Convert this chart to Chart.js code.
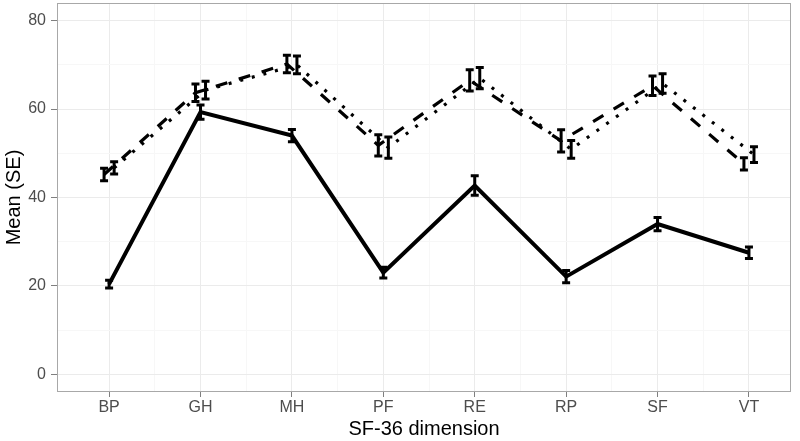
<!DOCTYPE html>
<html>
<head>
<meta charset="utf-8">
<script src="https://cdn.jsdelivr.net/npm/chart.js@4"></script>
<style>
  html, body { margin: 0; padding: 0; background: #fff; }
  #wrap { width: 800px; height: 441px; }
</style>
</head>
<body>
<div id="wrap"><canvas id="chart"></canvas></div>
<script>
// SF-36 dimensions on the x axis
const categories = ['BP', 'GH', 'MH', 'PF', 'RE', 'RP', 'SF', 'VT'];

// group means
const meanSolid  = [20.4, 59.3, 54.0, 23.0, 42.7, 22.1, 34.0, 27.5];
const meanDashed = [45.2, 63.7, 70.2, 51.8, 66.5, 52.8, 65.3, 47.6];
const meanDotted = [46.7, 64.3, 70.0, 51.3, 67.0, 50.9, 65.8, 49.7];

// standard errors
const seSolid  = [0.9, 1.6, 1.4, 1.2, 2.2, 1.4, 1.5, 1.3];
const seDashed = [1.4, 2.0, 2.0, 2.4, 2.4, 2.5, 2.2, 1.4];
const seDotted = [1.4, 2.0, 2.0, 2.4, 2.4, 2.0, 2.2, 1.8];

const yTicks = [0, 10, 20, 30, 40, 50, 60, 70, 80];
const dodge = 0.055;
const fontFam = 'Liberation Sans, Arial, sans-serif';

function pts(means, off) {
  return means.map((v, i) => ({ x: i + off, y: v }));
}

const errorBars = {
  id: 'errorBars',
  afterDatasetsDraw(chart) {
    const ctx = chart.ctx;
    const xs = chart.scales.x, ys = chart.scales.y;
    ctx.save();
    ctx.strokeStyle = '#000';
    ctx.lineWidth = 3;
    ctx.lineCap = 'butt';
    chart.data.datasets.forEach(ds => {
      ds.data.forEach((p, i) => {
        const x = xs.getPixelForValue(p.x);
        const y1 = ys.getPixelForValue(p.y - ds.errors[i]);
        const y2 = ys.getPixelForValue(p.y + ds.errors[i]);
        ctx.beginPath();
        ctx.moveTo(x, y1); ctx.lineTo(x, y2);
        ctx.moveTo(x - 4, y1); ctx.lineTo(x + 4, y1);
        ctx.moveTo(x - 4, y2); ctx.lineTo(x + 4, y2);
        ctx.stroke();
      });
    });
    ctx.restore();
  }
};

const panelBox = {
  id: 'panelBox',
  afterDraw(chart) {
    const a = chart.chartArea, ctx = chart.ctx;
    ctx.save();
    ctx.strokeStyle = '#a8a8a8';
    ctx.lineWidth = 1;
    ctx.strokeRect(a.left + 0.5, a.top + 0.5, a.right - a.left - 1, a.bottom - a.top - 1);
    ctx.restore();
  }
};

function noPad(scale) {
  scale.paddingTop = 0;
  scale.paddingBottom = 0;
  scale.paddingLeft = 0;
  scale.paddingRight = 0;
}

new Chart(document.getElementById('chart'), {
  type: 'line',
  data: {
    datasets: [
      { label: 'solid', data: pts(meanSolid, 0), errors: seSolid,
        borderColor: '#000', borderWidth: 4, borderDash: [] },
      { label: 'dashed', data: pts(meanDashed, -dodge), errors: seDashed,
        borderColor: '#000', borderWidth: 3.2, borderDash: [12, 12] },
      { label: 'dotted', data: pts(meanDotted, dodge), errors: seDotted,
        borderColor: '#000', borderWidth: 3.2, borderDash: [3, 9] }
    ]
  },
  options: {
    responsive: true,
    maintainAspectRatio: false,
    animation: false,
    layout: { padding: { top: 3, right: 9, left: 0, bottom: 0 } },
    elements: {
      point: { radius: 0, hoverRadius: 0 },
      line: { tension: 0, borderCapStyle: 'butt', fill: false }
    },
    plugins: { legend: { display: false }, tooltip: { enabled: false } },
    scales: {
      x: {
        type: 'linear',
        min: -0.57,
        max: 7.46,
        afterBuildTicks: axis => {
          const t = [];
          for (let i = 0; i <= 14; i++) t.push({ value: i / 2 });
          axis.ticks = t;
        },
        afterFit: scale => { scale.height = 49; noPad(scale); },
        grid: {
          color: c => (c.tick && Number.isInteger(c.tick.value)) ? '#ebebeb' : '#f7f7f7',
          tickColor: c => (c.tick && Number.isInteger(c.tick.value)) ? '#7f7f7f' : 'rgba(0,0,0,0)',
          tickLength: 5,
          lineWidth: 1
        },
        border: { display: false },
        ticks: {
          autoSkip: false,
          maxRotation: 0,
          padding: 1,
          color: '#4d4d4d',
          font: { family: fontFam, size: 16 },
          callback: v => Number.isInteger(v) ? categories[v] : ''
        },
        title: {
          display: true,
          text: 'SF-36 dimension',
          color: '#000',
          padding: { top: 0, bottom: 0 },
          font: { family: fontFam, size: 20 }
        }
      },
      y: {
        min: -4,
        max: 84,
        afterBuildTicks: axis => { axis.ticks = yTicks.map(v => ({ value: v })); },
        afterFit: scale => { scale.width = 57; noPad(scale); },
        grid: {
          color: c => (c.tick && c.tick.value % 20 === 0) ? '#ebebeb' : '#f7f7f7',
          tickColor: c => (c.tick && c.tick.value % 20 === 0) ? '#7f7f7f' : 'rgba(0,0,0,0)',
          tickLength: 6,
          lineWidth: 1
        },
        border: { display: false },
        ticks: {
          padding: 5,
          color: '#4d4d4d',
          font: { family: fontFam, size: 16 },
          callback: v => v % 20 === 0 ? String(v) : ''
        },
        title: {
          display: true,
          text: 'Mean (SE)',
          color: '#000',
          padding: { top: 2, bottom: 0 },
          font: { family: fontFam, size: 20 }
        }
      }
    }
  },
  plugins: [errorBars, panelBox]
});
</script>
</body>
</html>
